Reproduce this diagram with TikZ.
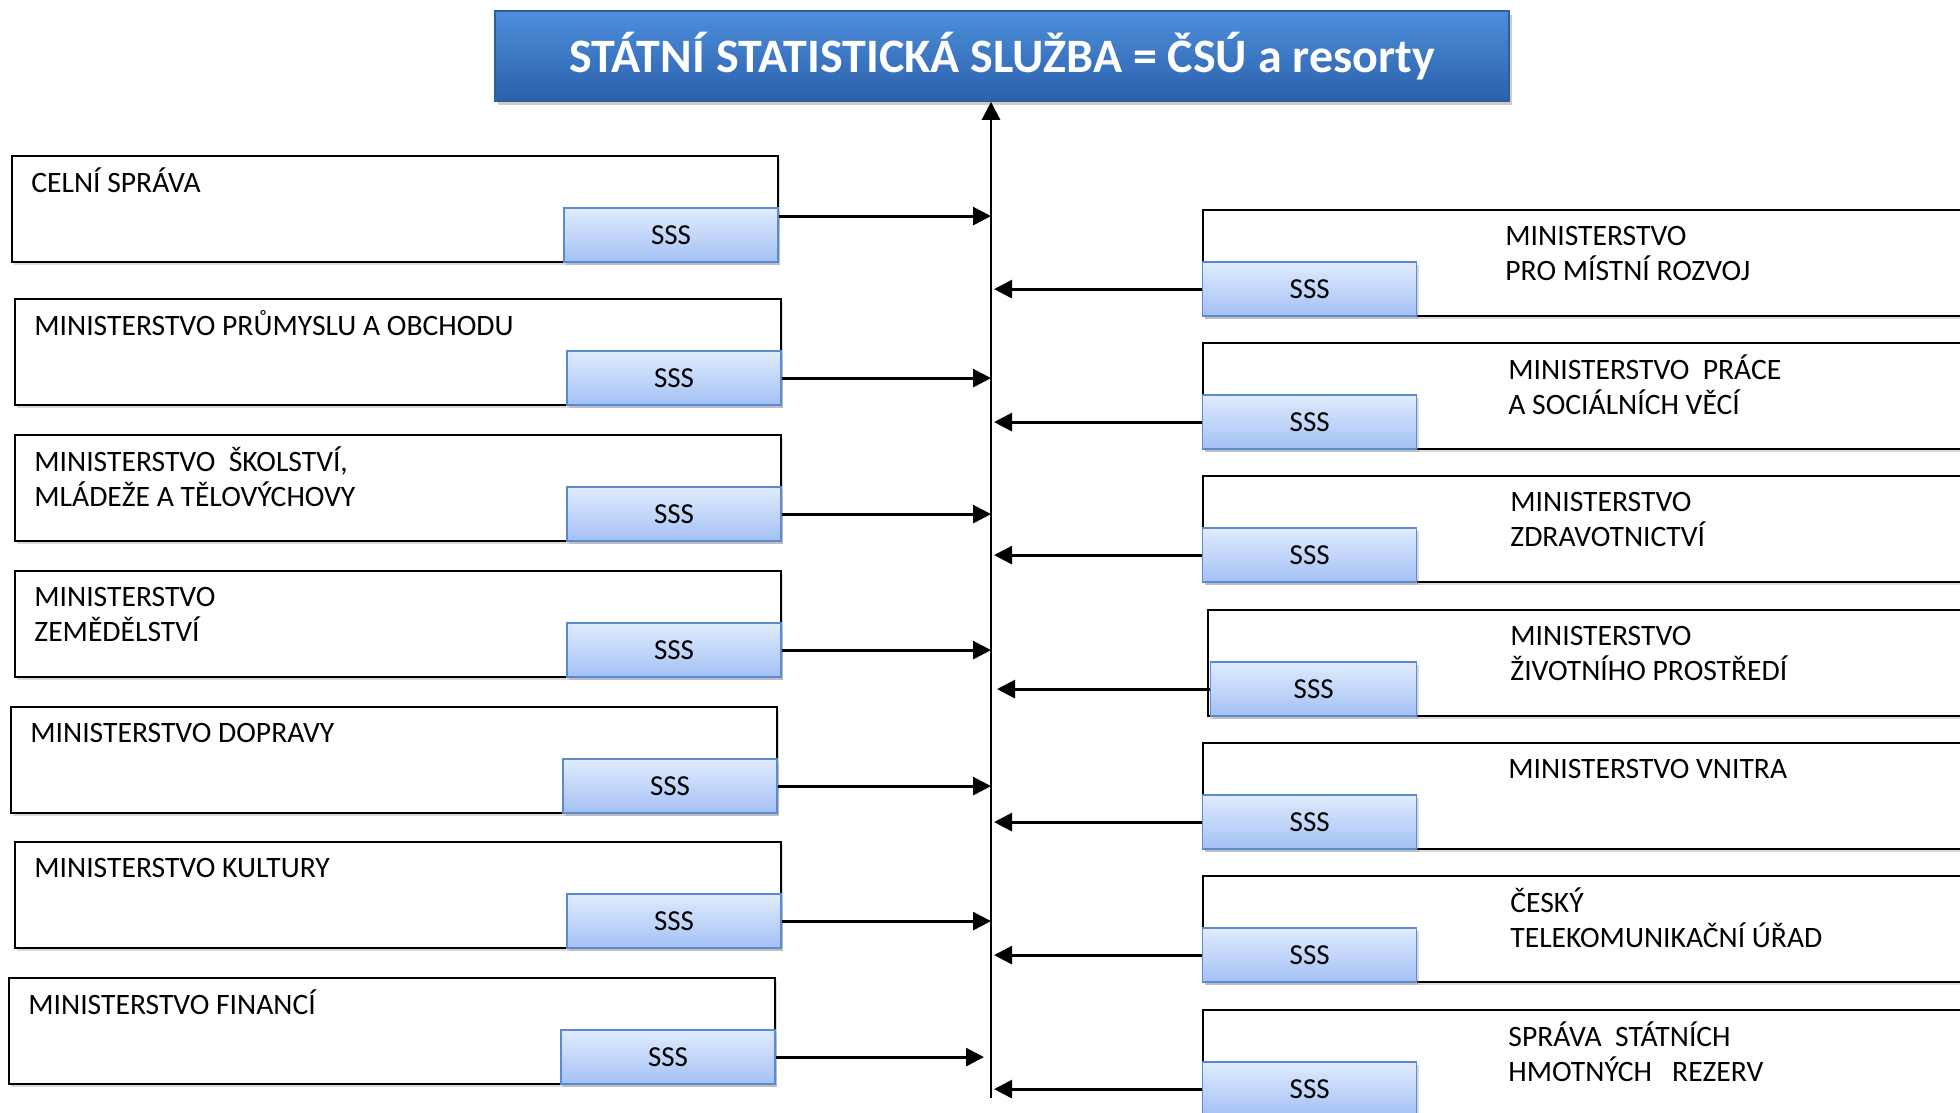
\documentclass[tikz,border=0pt]{standalone}
\usepackage{fontspec}
\setmainfont{Carlito}
\usetikzlibrary{arrows.meta,shadows}

\definecolor{titleTop}{HTML}{4E8FDB}
\definecolor{titleBot}{HTML}{2B60AC}
\definecolor{titleEdge}{HTML}{2F5E9E}
\definecolor{sssTop}{HTML}{E0EBFD}
\definecolor{sssBot}{HTML}{A3C1F5}
\definecolor{sssEdge}{HTML}{5A8AD2}

\newcommand{\lblfont}{\fontsize{14.8}{17.5}\selectfont\setlength{\lineskiplimit}{-10pt}}

\begin{document}
\begin{tikzpicture}[x=0.5pt,y=-0.5pt,
  ministry/.style={draw,line width=0.9pt,fill=white,anchor=north west,inner sep=0pt,
    minimum height=53pt,drop shadow={opacity=0.3,shadow xshift=1pt,shadow yshift=-1.5pt}},
  sss/.style={draw=sssEdge,line width=0.7pt,top color=sssTop,bottom color=sssBot,
    minimum width=107pt,minimum height=27pt,inner sep=0pt,font=\fontsize{14.5}{17}\selectfont,
    drop shadow={opacity=0.3,shadow xshift=1pt,shadow yshift=-1.5pt}},
  lbl/.style={anchor=north west,inner sep=0pt,align=left,font=\lblfont},
  link/.style={line width=1.4pt,-{Triangle[length=9pt,width=9pt]}}]

\useasboundingbox (0,0) rectangle (1960,1113) ;

\node[draw=titleEdge,line width=0.8pt,top color=titleTop,bottom color=titleBot,
  minimum width=507pt,minimum height=45pt,text=white,
  font=\fontsize{24}{29}\selectfont\bfseries,
  drop shadow={opacity=0.4,shadow xshift=1.5pt,shadow yshift=-2pt}]
  (title) at (1002,56) {\raisebox{3pt}{STÁTNÍ STATISTICKÁ SLUŽBA = ČSÚ a resorty}} ;

\coordinate (spine_bot) at (991,1098) ;
\draw[link,line width=1.2pt] (spine_bot) -- (spine_bot |- title.south) ;

\node[ministry,minimum width=383pt] (box_celni) at (11,155) {} ;
\node[ministry,minimum width=383pt] (box_mpo) at (14,298) {} ;
\node[ministry,minimum width=383pt] (box_msmt) at (14,434) {} ;
\node[ministry,minimum width=383pt] (box_mze) at (14,570) {} ;
\node[ministry,minimum width=383pt] (box_md) at (10,706) {} ;
\node[ministry,minimum width=383pt] (box_mk) at (14,841) {} ;
\node[ministry,minimum width=383pt] (box_mf) at (8,977) {} ;

\node[ministry,minimum width=500pt] (box_mmr) at (1202,209) {} ;
\node[ministry,minimum width=500pt] (box_mpsv) at (1202,342) {} ;
\node[ministry,minimum width=500pt] (box_mzd) at (1202,475) {} ;
\node[ministry,minimum width=500pt] (box_mzp) at (1207,609) {} ;
\node[ministry,minimum width=500pt] (box_mv) at (1202,742) {} ;
\node[ministry,minimum width=500pt] (box_ctu) at (1202,875) {} ;
\node[ministry,minimum width=500pt] (box_sshr) at (1202,1009) {} ;

\node[lbl] (txt_celni) at ([shift={(20,12)}]box_celni.north west) {\strut CELNÍ SPRÁVA} ;
\node[lbl] (txt_mpo) at ([shift={(20,12)}]box_mpo.north west) {\strut MINISTERSTVO PRŮMYSLU A OBCHODU} ;
\node[lbl] (txt_msmt) at ([shift={(20,12)}]box_msmt.north west) {\strut MINISTERSTVO~ ŠKOLSTVÍ,\\MLÁDEŽE A TĚLOVÝCHOVY} ;
\node[lbl] (txt_mze) at ([shift={(20,12)}]box_mze.north west) {\strut MINISTERSTVO\\ZEMĚDĚLSTVÍ} ;
\node[lbl] (txt_md) at ([shift={(20,12)}]box_md.north west) {\strut MINISTERSTVO DOPRAVY} ;
\node[lbl] (txt_mk) at ([shift={(20,12)}]box_mk.north west) {\strut MINISTERSTVO KULTURY} ;
\node[lbl] (txt_mf) at ([shift={(20,12)}]box_mf.north west) {\strut MINISTERSTVO FINANCÍ} ;

\node[lbl] (txt_mmr) at ([shift={(303,12)}]box_mmr.north west) {\strut MINISTERSTVO\\PRO MÍSTNÍ ROZVOJ} ;
\node[lbl] (txt_mpsv) at ([shift={(306,12)}]box_mpsv.north west) {\strut MINISTERSTVO~ PRÁCE\\A SOCIÁLNÍCH VĚCÍ} ;
\node[lbl] (txt_mzd) at ([shift={(308,12)}]box_mzd.north west) {\strut MINISTERSTVO\\ZDRAVOTNICTVÍ} ;
\node[lbl] (txt_mzp) at ([shift={(303,12)}]box_mzp.north west) {\strut MINISTERSTVO\\ŽIVOTNÍHO PROSTŘEDÍ} ;
\node[lbl] (txt_mv) at ([shift={(306,12)}]box_mv.north west) {\strut MINISTERSTVO VNITRA} ;
\node[lbl] (txt_ctu) at ([shift={(308,12)}]box_ctu.north west) {\strut ČESKÝ\\TELEKOMUNIKAČNÍ ÚŘAD} ;
\node[lbl] (txt_sshr) at ([shift={(306,12)}]box_sshr.north west) {\strut SPRÁVA~ STÁTNÍCH\\HMOTNÝCH~~ REZERV} ;

\node[sss,anchor=south east] (sss_celni) at (box_celni.south east) {SSS} ;
\node[sss,anchor=south east] (sss_mpo) at (box_mpo.south east) {SSS} ;
\node[sss,anchor=south east] (sss_msmt) at (box_msmt.south east) {SSS} ;
\node[sss,anchor=south east] (sss_mze) at (box_mze.south east) {SSS} ;
\node[sss,anchor=south east] (sss_md) at (box_md.south east) {SSS} ;
\node[sss,anchor=south east] (sss_mk) at (box_mk.south east) {SSS} ;
\node[sss,anchor=south east] (sss_mf) at (box_mf.south east) {SSS} ;

\node[sss,anchor=south west] (sss_mmr) at (box_mmr.south west) {SSS} ;
\node[sss,anchor=south west] (sss_mpsv) at (box_mpsv.south west) {SSS} ;
\node[sss,anchor=south west] (sss_mzd) at (box_mzd.south west) {SSS} ;
\node[sss,anchor=south west,minimum width=103pt] (sss_mzp) at ([xshift=1.5pt]box_mzp.south west) {SSS} ;
\node[sss,anchor=south west] (sss_mv) at (box_mv.south west) {SSS} ;
\node[sss,anchor=south west] (sss_ctu) at (box_ctu.south west) {SSS} ;
\node[sss,anchor=south west] (sss_sshr) at (box_sshr.south west) {SSS} ;

\draw[link] ([shift={(0,-19)}]sss_celni.east) -- ([shift={(0,-19)}]sss_celni.east -| spine_bot) ;
\draw[link] (sss_mpo.east) -- (sss_mpo.east -| spine_bot) ;
\draw[link] (sss_msmt.east) -- (sss_msmt.east -| spine_bot) ;
\draw[link] (sss_mze.east) -- (sss_mze.east -| spine_bot) ;
\draw[link] (sss_md.east) -- (sss_md.east -| spine_bot) ;
\draw[link] (sss_mk.east) -- (sss_mk.east -| spine_bot) ;
\draw[link,shorten >=3.5pt] (sss_mf.east) -- (sss_mf.east -| spine_bot) ;

\draw[link,shorten >=1.5pt] (sss_mmr.west) -- (sss_mmr.west -| spine_bot) ;
\draw[link,shorten >=1.5pt] (sss_mpsv.west) -- (sss_mpsv.west -| spine_bot) ;
\draw[link,shorten >=1.5pt] (sss_mzd.west) -- (sss_mzd.west -| spine_bot) ;
\draw[link,shorten >=3pt] (sss_mzp.west) -- (sss_mzp.west -| spine_bot) ;
\draw[link,shorten >=1.5pt] (sss_mv.west) -- (sss_mv.west -| spine_bot) ;
\draw[link,shorten >=1.5pt] (sss_ctu.west) -- (sss_ctu.west -| spine_bot) ;
\draw[link,shorten >=1.5pt] (sss_sshr.west) -- (sss_sshr.west -| spine_bot) ;

\end{tikzpicture}
\end{document}
